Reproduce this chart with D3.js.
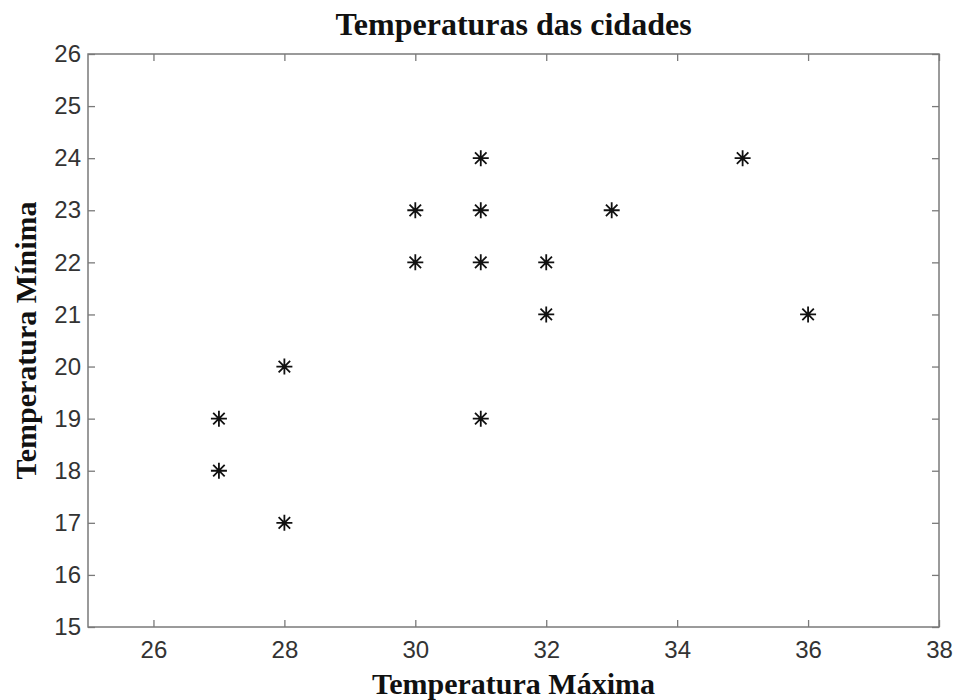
<!DOCTYPE html>
<html>
<head>
<meta charset="utf-8">
<script src="https://cdn.jsdelivr.net/npm/d3@7"></script>
<style>
  body { margin: 0; background: #fff; }
</style>
</head>
<body>
<div id="chart"></div>
<script>
// temperaturas por cidade
const tempMax = [27, 27, 28, 28, 30, 30, 31, 31, 31, 31, 32, 32, 33, 35, 36];
const tempMin = [19, 18, 20, 17, 23, 22, 24, 23, 22, 19, 22, 21, 23, 24, 21];
const xTicks = [26, 28, 30, 32, 34, 36, 38];
const yTicks = [15, 16, 17, 18, 19, 20, 21, 22, 23, 24, 25, 26];

const width = 956, height = 700;
const margin = { top: 54, right: 17, bottom: 73, left: 88 };
const W = width - margin.left - margin.right;
const H = height - margin.top - margin.bottom;

const svg = d3.select("#chart").append("svg")
    .attr("width", width)
    .attr("height", height);

const g = svg.append("g")
    .attr("transform", `translate(${margin.left},${margin.top})`);

const x = d3.scaleLinear().domain([25, 38]).range([0, W]);
const y = d3.scaleLinear().domain([15, 26]).range([H, 0]);

const axisColor = "#7a7a7a";
const tickLen = 7;

// ticks para dentro, nos quatro lados (estilo MATLAB)
const styleAxis = sel => {
    sel.select(".domain").remove();
    sel.selectAll(".tick line").attr("stroke", axisColor).attr("stroke-width", 1.3);
    sel.selectAll(".tick text")
        .attr("fill", "#333")
        .style("font-family", "'Liberation Sans', Arial, sans-serif")
        .style("font-size", "24px");
};

g.append("g")
    .attr("transform", `translate(0,${H})`)
    .call(d3.axisBottom(x).tickValues(xTicks).tickSizeInner(-tickLen).tickSizeOuter(0).tickPadding(14))
    .call(styleAxis);

g.append("g")
    .call(d3.axisTop(x).tickValues(xTicks).tickSizeInner(-tickLen).tickSizeOuter(0).tickFormat(""))
    .call(styleAxis);

g.append("g")
    .call(d3.axisLeft(y).tickValues(yTicks).tickSizeInner(-tickLen).tickSizeOuter(0).tickPadding(7))
    .call(styleAxis);

g.append("g")
    .attr("transform", `translate(${W},0)`)
    .call(d3.axisRight(y).tickValues(yTicks).tickSizeInner(-tickLen).tickSizeOuter(0).tickFormat(""))
    .call(styleAxis);

g.append("rect")
    .attr("width", W)
    .attr("height", H)
    .attr("fill", "none")
    .attr("stroke", axisColor)
    .attr("stroke-width", 1.5);

// marcadores asterisco
const r = 8;
const star = `M${-r},0L${r},0M0,${-r}L0,${r}` +
    `M${-r * 0.72},${-r * 0.72}L${r * 0.72},${r * 0.72}` +
    `M${-r * 0.72},${r * 0.72}L${r * 0.72},${-r * 0.72}`;

g.selectAll(".pt")
    .data(tempMax.map((d, i) => ({ x: d, y: tempMin[i] })))
    .enter()
    .append("path")
    .attr("class", "pt")
    .attr("transform", d => `translate(${x(d.x)},${y(d.y)})`)
    .attr("d", star)
    .attr("fill", "none")
    .attr("stroke", "#111")
    .attr("stroke-width", 1.8);

const serif = "'Liberation Serif', 'Times New Roman', serif";

svg.append("text")
    .attr("x", margin.left + W / 2)
    .attr("y", 35)
    .attr("text-anchor", "middle")
    .style("font-family", serif)
    .style("font-weight", "bold")
    .style("font-size", "32px")
    .attr("fill", "#111")
    .text("Temperaturas das cidades");

svg.append("text")
    .attr("x", margin.left + W / 2)
    .attr("y", 694)
    .attr("text-anchor", "middle")
    .style("font-family", serif)
    .style("font-weight", "bold")
    .style("font-size", "30px")
    .attr("fill", "#111")
    .text("Temperatura Máxima");

svg.append("text")
    .attr("transform", `translate(36,${margin.top + H / 2}) rotate(-90)`)
    .attr("text-anchor", "middle")
    .style("font-family", serif)
    .style("font-weight", "bold")
    .style("font-size", "30px")
    .attr("fill", "#111")
    .text("Temperatura Mínima");
</script>
</body>
</html>
